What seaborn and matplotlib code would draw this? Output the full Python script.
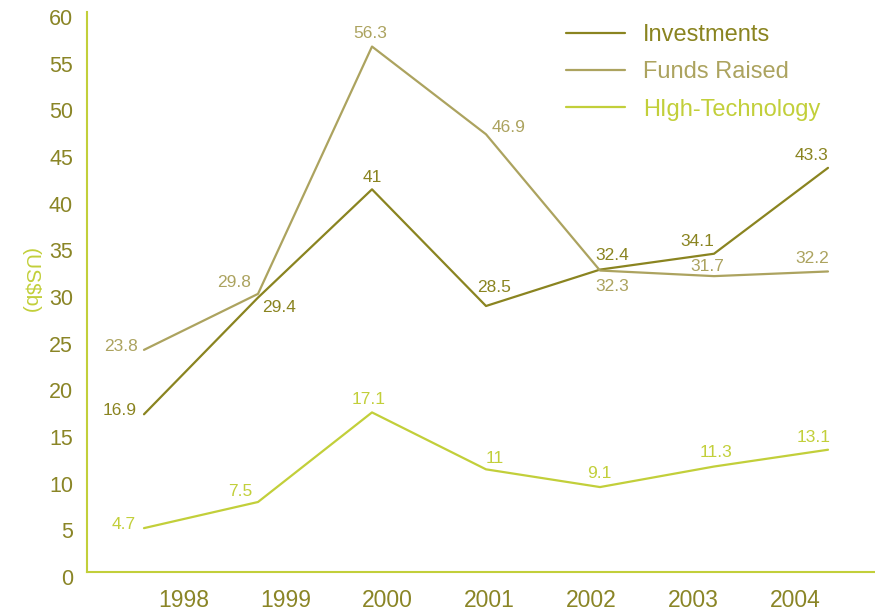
import matplotlib
matplotlib.use("Agg")
import matplotlib.pyplot as plt
import matplotlib.transforms as mtransforms
import seaborn as sns
import pandas as pd

# Data (US$ billions)
years = ["1998", "1999", "2000", "2001", "2002", "2003", "2004"]
investments = [16.9, 29.4, 41, 28.5, 32.4, 34.1, 43.3]
funds_raised = [23.8, 29.8, 56.3, 46.9, 32.3, 31.7, 32.2]
high_tech = [4.7, 7.5, 17.1, 11, 9.1, 11.3, 13.1]
series_names = ["Investments", "Funds Raised", "HIgh-Technology"]

# Styling
colors = ["#8a8420", "#aca35f", "#c2cf3a"]
tick_color = "#8a8526"
axis_color = "#c2cf3a"

# label offsets (pixels) for value annotations: (dx, dy, ha)
offsets = [
    [(-7, 4, "right"), (4, -10, "left"), (0, 12, "center"), (8, 18, "center"),
     (12, 14, "center"), (-17, 12, "center"), (-16, 12, "center")],
    [(-6, 3, "right"), (-24, 11, "center"), (-2, 13, "center"), (6, 7, "left"),
     (12, -16, "center"), (-7, 10, "center"), (-16, 13, "center")],
    [(-8, 4, "right"), (-18, 10, "center"), (-3, 13, "center"), (9, 11, "center"),
     (-1, 14, "center"), (2, 14, "center"), (-14, 12, "center")],
]

sns.set_style("white")
plt.rcParams["font.family"] = ["Liberation Sans", "DejaVu Sans"]

df = pd.DataFrame({
    "x": list(range(len(years))) * 3,
    "value": investments + funds_raised + high_tech,
    "series": [n for n in series_names for _ in years],
})

fig = plt.figure(figsize=(8.75, 6.11), dpi=100)
ax = fig.add_axes([87 / 875, 1 - 572 / 611, 1 - 87 / 875, (572 - 12) / 611])

sns.lineplot(data=df, x="x", y="value", hue="series", hue_order=series_names,
             palette=colors, linewidth=1.6, ax=ax)

# value labels
all_vals = [investments, funds_raised, high_tech]
for s, vals in enumerate(all_vals):
    for i, v in enumerate(vals):
        dx, dy, ha = offsets[s][i]
        ax.annotate(f"{v:g}", (i, v), xytext=(dx, dy), textcoords="offset pixels",
                    ha=ha, va="center", fontsize=12.5, color=colors[s])

ax.set_xlim(-0.5, (875 - 144) / 114)
ax.set_ylim(0, 60)
ax.set_yticks(range(0, 61, 5))
# year labels sit slightly off the data positions in the original
ax.set_xticks([0.346 + 0.895 * i for i in range(len(years))])
ax.set_xticklabels(years)
ax.tick_params(axis="both", length=0, colors=tick_color)
ax.tick_params(axis="x", pad=12, labelsize=16.5)
ax.tick_params(axis="y", pad=10, labelsize=15.5)
for lab in ax.get_yticklabels():
    lab.set_transform(lab.get_transform() +
                      mtransforms.ScaledTranslation(0, -5 / 100, fig.dpi_scale_trans))

ax.set_xlabel("")
ax.set_ylabel("(US$b)", rotation=270, color=axis_color, fontsize=15)
ax.yaxis.set_label_coords(-66 / 788, 0.52)

for side in ["top", "right"]:
    ax.spines[side].set_visible(False)
for side in ["left", "bottom"]:
    ax.spines[side].set_color(axis_color)
    ax.spines[side].set_linewidth(1.5)

leg = ax.legend(loc="upper left", bbox_to_anchor=(458 / 788, 1.016), frameon=False,
                fontsize=17, handlelength=2.5, handletextpad=0.75, labelspacing=0.64)
for text, c in zip(leg.get_texts(), colors):
    text.set_color(c)

fig.savefig("out.png", dpi=100)
